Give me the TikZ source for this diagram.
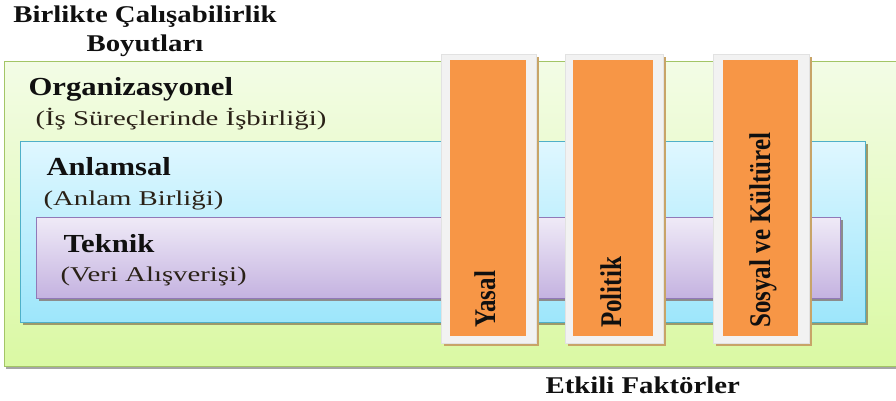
\documentclass[tikz,border=0pt]{standalone}
\usepackage{graphicx}
\usepackage{fontspec}
\setmainfont{Liberation Serif}
\newfontfamily\titlefont[FakeStretch=1.2]{Liberation Serif}
\newfontfamily\labelfont[FakeStretch=1.18]{Liberation Serif}
\newfontfamily\subfont[FakeStretch=1.37]{Liberation Serif}
\usetikzlibrary{positioning}

\definecolor{grnTop}{HTML}{F3FCE6}
\definecolor{grnBot}{HTML}{DAF9A3}
\definecolor{grnLine}{HTML}{A3C566}
\definecolor{bluTop}{HTML}{DFF7FF}
\definecolor{bluBot}{HTML}{9DE6FB}
\definecolor{bluLine}{HTML}{4FB0C8}
\definecolor{purTop}{HTML}{EFEAF7}
\definecolor{purBot}{HTML}{C4B2E0}
\definecolor{purLine}{HTML}{9179B8}
\definecolor{orng}{HTML}{F79646}
\definecolor{frameFill}{HTML}{F2F2F2}
\definecolor{frameLine}{HTML}{E2E2E2}
\definecolor{tan}{HTML}{C8A468}
\definecolor{txt}{HTML}{101010}

\tikzset{
  layer/.style={anchor=north west, inner sep=0pt, line width=1.3pt, shading angle=0},
  greenbox/.style={layer, draw=grnLine, top color=grnTop, bottom color=grnBot,
    preaction={fill=black!35, transform canvas={shift={(1pt,-2.5pt)}}}},
  bluebox/.style={layer, draw=bluLine, top color=bluTop, bottom color=bluBot,
    preaction={fill=black!45!olive!60, transform canvas={shift={(2pt,-2.5pt)}}}},
  purplebox/.style={layer, draw=purLine, top color=purTop, bottom color=purBot,
    preaction={fill=black!45, transform canvas={shift={(2pt,-2.5pt)}}}},
  barframe/.style={anchor=north west, inner sep=0pt, fill=frameFill, draw=frameLine, line width=0.6pt,
    preaction={fill=tan, transform canvas={shift={(3pt,-3pt)}}}},
  barfill/.style={anchor=north west, inner sep=0pt, fill=orng},
  titletext/.style={anchor=base, text=txt, font=\titlefont\bfseries\fontsize{24}{28}\selectfont},
  headtext/.style={anchor=base west, text=txt, font=\labelfont\bfseries\fontsize{26}{30}\selectfont},
  subtext/.style={anchor=base west, text=txt!85!brown, font=\subfont\fontsize{21}{25}\selectfont},
  bartext/.style={anchor=base west, rotate=90, inner sep=0pt, text=txt, font=\bfseries\fontsize{25}{29}\selectfont},
}

\begin{document}
\begin{tikzpicture}[x=1pt, y=-1pt]
  \useasboundingbox (0,0) rectangle (896,400);
  \fill[white] (0,0) rectangle (896,400);

  % nested dimension layers
  \node[greenbox, minimum width=900pt, minimum height=305pt] (org) at (4,61) {};
  \node[bluebox, minimum width=845pt, minimum height=181pt] (anl) at (20,141) {};
  \node[purplebox, minimum width=804pt, minimum height=81pt] (tek) at (36,217) {};

  % layer labels
  \node[headtext] (orgT) at (25,95) {Organizasyonel};
  \node[subtext]  (orgS) at (32,125) {(İş Süreçlerinde İşbirliği)};
  \node[headtext] (anlT) at (43,175) {Anlamsal};
  \node[subtext]  (anlS) at (40,205) {(Anlam Birliği)};
  \node[headtext] (tekT) at (60,252) {Teknik};
  \node[subtext]  (tekS) at (57,281) {(Veri Alışverişi)};

  % factor bars
  \node[barframe, minimum width=95pt, minimum height=289pt] (f1) at (441,54) {};
  \node[barfill,  minimum width=76pt, minimum height=276pt] (o1) at (450,60) {};
  \node[barframe, minimum width=98pt, minimum height=289pt] (f2) at (565,54) {};
  \node[barfill,  minimum width=80pt, minimum height=276pt] (o2) at (573,60) {};
  \node[barframe, minimum width=96pt, minimum height=289pt] (f3) at (713,54) {};
  \node[barfill,  minimum width=75pt, minimum height=276pt] (o3) at (723,60) {};

  \node[bartext] (yasal) at (495,328) {\scalebox{1}[1.2]{Yasal}};
  \node[bartext] (pol)   at (621,328) {\scalebox{1}[1.2]{Politik}};
  \node[bartext] (sos)   at (770,328) {\scalebox{1}[1.2]{Sosyal ve Kültürel}};

  % headings
  \node[titletext] (title1) at (145,22) {Birlikte Çalışabilirlik};
  \node[titletext] (title2) at (145,51) {Boyutları};
  \node[titletext, anchor=base west] (factors) at (542,393) {Etkili Faktörler};
\end{tikzpicture}
\end{document}
